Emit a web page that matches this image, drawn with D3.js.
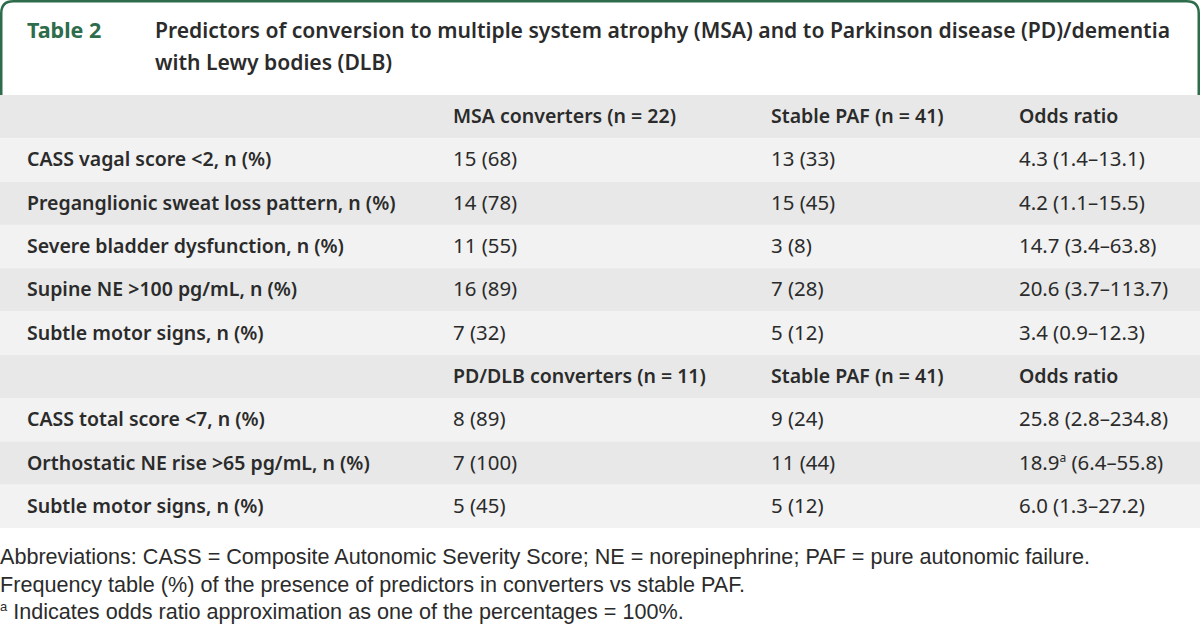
<!DOCTYPE html>
<html>
<head>
<meta charset="utf-8">
<script src="https://cdn.jsdelivr.net/npm/d3@7"></script>
<style>
  body { margin: 0; background: #fff; }
  svg { display: block; }
</style>
</head>
<body>
<script>
var width = 1200, height = 631;

// table content
const titleLabel = "Table 2";
const titleLines = [
    "Predictors of conversion to multiple system atrophy (MSA) and to Parkinson disease (PD)/dementia",
    "with Lewy bodies (DLB)"
];
const headerMSA = ["", "MSA converters (n = 22)", "Stable PAF (n = 41)", "Odds ratio"];
const headerPD  = ["", "PD/DLB converters (n = 11)", "Stable PAF (n = 41)", "Odds ratio"];
const msaLabels = ["CASS vagal score <2, n (%)", "Preganglionic sweat loss pattern, n (%)",
    "Severe bladder dysfunction, n (%)", "Supine NE >100 pg/mL, n (%)", "Subtle motor signs, n (%)"];
const msaConverters = ["15 (68)", "14 (78)", "11 (55)", "16 (89)", "7 (32)"];
const msaStable = ["13 (33)", "15 (45)", "3 (8)", "7 (28)", "5 (12)"];
const msaOdds = ["4.3 (1.4\u201313.1)", "4.2 (1.1\u201315.5)", "14.7 (3.4\u201363.8)", "20.6 (3.7\u2013113.7)", "3.4 (0.9\u201312.3)"];
const pdLabels = ["CASS total score <7, n (%)", "Orthostatic NE rise >65 pg/mL, n (%)", "Subtle motor signs, n (%)"];
const pdConverters = ["8 (89)", "7 (100)", "5 (45)"];
const pdStable = ["9 (24)", "11 (44)", "5 (12)"];
const pdOdds = ["25.8 (2.8\u2013234.8)", "18.9|a| (6.4\u201355.8)", "6.0 (1.3\u201327.2)"];
const footnotes = [
    "Abbreviations: CASS = Composite Autonomic Severity Score; NE = norepinephrine; PAF = pure autonomic failure.",
    "Frequency table (%) of the presence of predictors in converters vs stable PAF.",
    "|a| Indicates odds ratio approximation as one of the percentages = 100%."
];

// assemble rows
let rows = [{cells: headerMSA, head: true}];
msaLabels.forEach((l,i)=>rows.push({cells:[l, msaConverters[i], msaStable[i], msaOdds[i]]}));
rows.push({cells: headerPD, head: true});
pdLabels.forEach((l,i)=>rows.push({cells:[l, pdConverters[i], pdStable[i], pdOdds[i]]}));

const green = "#2e6c4b", ink = "#2b2b2b";
const bodyFont = "'Noto Sans', 'DejaVu Sans', sans-serif";
const noteFont = "'Liberation Sans', Arial, sans-serif";

let svg = d3.select("body").append("svg").attr("width", width).attr("height", height);

// title frame with rounded top corners
const r = 12, bw = 2.5, frameBottom = 95;
svg.append("path")
    .attr("d", `M${bw/2},${frameBottom} L${bw/2},${r+bw/2} Q${bw/2},${bw/2} ${r+bw/2},${bw/2} L${width-r-bw/2},${bw/2} Q${width-bw/2},${bw/2} ${width-bw/2},${r+bw/2} L${width-bw/2},${frameBottom}`)
    .attr("fill", "none").attr("stroke", green).attr("stroke-width", bw);

svg.append("text").attr("x", 27).attr("y", 38)
    .attr("font-family", bodyFont).attr("font-weight", 700).attr("font-size", 21.5)
    .attr("fill", green).text(titleLabel);

svg.selectAll(".title").data(titleLines).enter().append("text")
    .attr("class", "title")
    .attr("x", 155).attr("y", (d,i)=>38 + i*32)
    .attr("font-family", bodyFont).attr("font-weight", 600).attr("font-size", 21.1)
    .attr("fill", ink).text(d=>d);

// rows
const y = d3.scaleBand().domain(d3.range(rows.length)).range([95, 528]).padding(0);
const colX = [27, 453, 771, 1019];

let gRows = svg.selectAll(".row").data(rows).enter().append("g")
    .attr("class", "row")
    .attr("transform", (d,i)=>`translate(0,${y(i)})`);

gRows.append("rect")
    .attr("width", width).attr("height", y.bandwidth())
    .attr("fill", (d,i)=> i%2===0 ? "#e7e8e7" : "#f2f2f2");

gRows.each(function(row){
    let g = d3.select(this);
    row.cells.forEach((c,j)=>{
        let bold = row.head || j===0;
        let t = g.append("text")
            .attr("x", colX[j]).attr("y", y.bandwidth()/2 + 6.5)
            .attr("font-family", bodyFont)
            .attr("font-size", bold ? 19.5 : 20.4)
            .attr("font-weight", bold ? 600 : 400)
            .attr("fill", ink);
        c.split("|").forEach((part,k)=>{
            if (k%2===1) t.append("tspan").attr("font-size", 12).attr("dy", -8).text(part);
            else if (k>0) t.append("tspan").attr("dy", 8).text(part);
            else t.append("tspan").text(part);
        });
    });
});

// footnotes
svg.selectAll(".note").data(footnotes).enter().append("text")
    .attr("class", "note")
    .attr("x", 0).attr("y", (d,i)=>564 + i*27.5)
    .attr("font-family", noteFont).attr("font-size", 21.6)
    .attr("fill", ink)
    .each(function(d){
        let t = d3.select(this);
        d.split("|").forEach((part,k)=>{
            if (k%2===1) t.append("tspan").attr("font-size", 13).attr("dy", -8).text(part);
            else if (k>0) t.append("tspan").attr("dy", 8).text(part);
            else if (part) t.append("tspan").text(part);
        });
    });
</script>
</body>
</html>
